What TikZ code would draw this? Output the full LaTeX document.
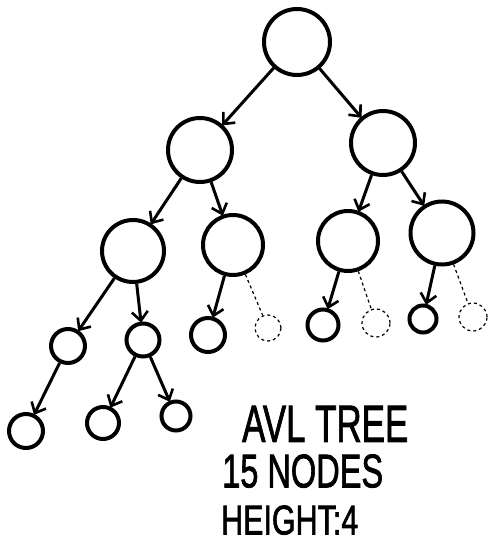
\documentclass[tikz,border=0pt]{standalone}
\usepackage{fontspec}
\setmainfont{Liberation Sans}
\newfontfamily\sketchfont[FakeBold=1.8]{Liberation Sans}
\usetikzlibrary{arrows.meta}
\begin{document}
\begin{tikzpicture}[x=1pt,y=-1pt,
  nd/.style={circle,draw,line width=4pt,inner sep=0pt,minimum size=#1},
  ghost/.style={circle,draw,dashed,line width=1.2pt,inner sep=0pt,minimum size=#1},
  edge/.style={line width=3pt,-{Straight Barb[length=9pt,width=16pt,line width=2.6pt]},shorten >=-1pt},
  dedge/.style={line width=1.2pt,dashed},
  lbl/.style={anchor=south west,inner sep=0pt,font=\sketchfont}]
\useasboundingbox (0,0) rectangle (490,543);
\node[nd=66] (r) at (297,42) {};
\node[nd=64] (a) at (200,150) {};
\node[nd=64] (b) at (383,143) {};
\node[nd=62] (aa) at (133,251) {};
\node[nd=60] (ab) at (233,245) {};
\node[nd=60] (ba) at (348,241) {};
\node[nd=63] (bb) at (442,233) {};
\node[nd=34] (aaa) at (68,346) {};
\node[nd=33] (aab) at (143,340) {};
\node[nd=34] (aba) at (208,335) {};
\node[ghost=26] (abb) at (268,328) {};
\node[nd=31] (baa) at (323,325) {};
\node[ghost=28] (bab) at (376,323) {};
\node[nd=27] (bba) at (423,319) {};
\node[ghost=28] (bbb) at (473,317) {};
\node[nd=34] (aaaa) at (26,431) {};
\node[nd=32] (aaba) at (103,423) {};
\node[nd=29] (aabb) at (176,416) {};
\draw[edge] (r) -- (a);
\draw[edge] (r) -- (b);
\draw[edge] (a) -- (aa);
\draw[edge] (a) -- (ab);
\draw[edge] (b) -- (ba);
\draw[edge] (b) -- (bb);
\draw[edge] (aa) -- (aaa);
\draw[edge] (aa) -- (aab);
\draw[edge] (ab) -- (aba);
\draw[dedge] (ab) -- (abb);
\draw[edge] (ba) -- (baa);
\draw[dedge] (ba) -- (bab);
\draw[edge] (bb) -- (bba);
\draw[dedge] (bb) -- (bbb);
\draw[edge] (aaa) -- (aaaa);
\draw[edge] (aab) -- (aaba);
\draw[edge] (aab) -- (aabb);
\node[lbl] (t1) at (242,442) {\resizebox{166pt}{36pt}{AVL TREE}};
\node[lbl] (t2) at (222,488) {\resizebox{161pt}{33pt}{15 NODES}};
\node[lbl] (t3) at (221,535) {\resizebox{137pt}{29pt}{HEIGHT:4}};
\end{tikzpicture}
\end{document}
